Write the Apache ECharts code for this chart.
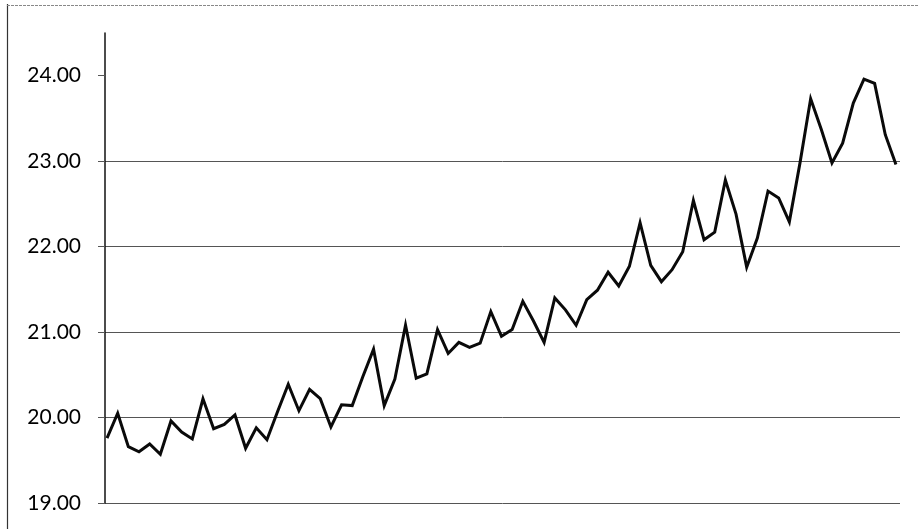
<!DOCTYPE html>
<html>
<head>
<meta charset="utf-8">
<script src="https://cdn.jsdelivr.net/npm/echarts@6/dist/echarts.min.js"></script>
<style>
  html, body { margin: 0; padding: 0; background: #fff; }
  #chart { width: 919px; height: 529px; }
</style>
</head>
<body>
<div id="chart"></div>
<script>
// Monthly readings, in order
const values = [
  19.76, 20.05, 19.66, 19.60, 19.69, 19.57, 19.96, 19.83, 19.75, 20.22,
  19.87, 19.92, 20.03, 19.64, 19.88, 19.74, 20.07, 20.39, 20.08, 20.33,
  20.22, 19.89, 20.15, 20.14, 20.48, 20.80, 20.14, 20.45, 21.08, 20.46,
  20.51, 21.03, 20.75, 20.88, 20.82, 20.87, 21.24, 20.95, 21.03, 21.36,
  21.13, 20.88, 21.40, 21.26, 21.08, 21.38, 21.49, 21.70, 21.54, 21.77,
  22.28, 21.78, 21.59, 21.73, 21.94, 22.54, 22.08, 22.17, 22.78, 22.38,
  21.76, 22.10, 22.65, 22.57, 22.29, 22.98, 23.73, 23.37, 22.98, 23.21,
  23.68, 23.96, 23.91, 23.31, 22.96
];
// Period numbers (1-based) for each reading
const periods = values.map((_, i) => i + 1);
// Y tick values shown on the axis
const yTicks = [19, 20, 21, 22, 23, 24];

const chart = echarts.init(document.getElementById('chart'), null, { renderer: 'canvas' });

chart.setOption({
  backgroundColor: '#ffffff',
  animation: false,
  grid: { left: 105, right: 19, top: 33, bottom: 26, containLabel: false },
  xAxis: {
    type: 'value',
    min: 0.81,
    max: 75.38,
    axisLine: { show: false },
    axisTick: { show: false },
    axisLabel: { show: false },
    splitLine: { show: false }
  },
  yAxis: {
    type: 'value',
    min: 19,
    max: 24.5,
    interval: 1,
    axisLine: { show: true, onZero: false, lineStyle: { color: '#111', width: 1.5 } },
    axisTick: {
      show: true, inside: false, length: 7,
      customValues: yTicks,
      lineStyle: { color: '#555', width: 1 }
    },
    axisLabel: {
      customValues: yTicks,
      margin: 24,
      color: '#000',
      fontFamily: 'Lato',
      fontSize: 21,
      formatter: v => v.toFixed(2)
    },
    splitLine: { show: true, showMaxLine: false, lineStyle: { color: '#555', width: 1 } }
  },
  // Frame edges of the chart area
  graphic: [
    { type: 'line', shape: { x1: 7.5, y1: 4, x2: 7.5, y2: 529 }, style: { stroke: '#333', lineWidth: 1.2 }, silent: true },
    { type: 'line', shape: { x1: 7, y1: 5.5, x2: 919, y2: 5.5 }, style: { stroke: '#888', lineWidth: 1, lineDash: [3, 1] }, silent: true }
  ],
  series: [{
    type: 'line',
    data: periods.map((p, i) => [p, values[i]]),
    showSymbol: false,
    symbol: 'none',
    lineStyle: { color: '#0a0a0a', width: 3, join: 'miter' }
  }]
});
</script>
</body>
</html>
